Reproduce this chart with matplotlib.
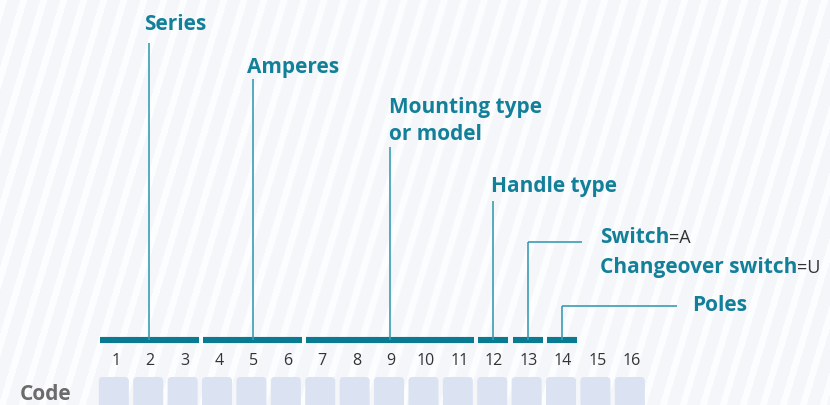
import numpy as np
import matplotlib.pyplot as plt
from matplotlib.patches import FancyBboxPatch

plt.rcParams['font.family'] = ['Open Sans', 'DejaVu Sans']

# code positions and the groups they belong to
positions = list(range(1, 17))
group_start = [1, 4, 7, 12, 13, 14]
group_end = [3, 6, 11, 12, 13, 14]
group_pin = [2, 5, 9, 12, 13, 14]
group_label = ["Series", "Amperes", "Mounting type\nor model", "Handle type", "Switch", "Poles"]
extra_lines = ["", "", "", "", "Changeover switch", ""]
extra_values = ["", "", "", "", "=A", ""]
extra_line_values = ["", "", "", "", "=U", ""]

teal_text = "#13809a"
teal_bar = "#0a7a93"
teal_line = "#3a9cb2"

W, H = 830, 406
px = 34.4          # pixel width of one code slot
x_first = 115      # pixel x of slot 1

fig = plt.figure(figsize=(W / 100, H / 100), dpi=100)
ax = fig.add_axes([0, 0, 1, 1])
ax.set_xlim(1 - x_first / px, 1 + (W - x_first) / px)
ax.set_ylim(H, 0)
ax.axis("off")

# faint diagonal stripes in the background
yy, xx = np.mgrid[0:H, 0:W]
phase = (xx + 0.3 * yy) % 20
bg = np.where(phase < 7, 1.0, 0.0)
c0 = np.array([0.957, 0.967, 0.978])
c1 = np.array([0.990, 0.993, 0.997])
img = c0[None, None, :] * (1 - bg[..., None]) + c1[None, None, :] * bg[..., None]
ax.imshow(img, extent=ax.get_xlim() + ax.get_ylim(), aspect="auto", zorder=0)

# code cells
cell_w = 30 / px
for p in positions:
    box = FancyBboxPatch((p - 0.47, 378), cell_w, 50,
                         boxstyle="round,pad=0,rounding_size=%f" % (4 / px),
                         mutation_aspect=px, fc="#dbe3f2", ec="none", zorder=1)
    ax.add_patch(box)
    ax.text(p + 0.02, 361, str(p), ha="center", va="center", fontsize=11.5,
            color="#333333", zorder=3)

ax.text(1 - (x_first - 20) / px, 395, "Code", ha="left", va="center",
        fontsize=15, fontweight="bold", color="#6b6b6b")

# group bars
bar_y = 341
ax.hlines([bar_y] * len(group_start), [s - 0.44 for s in group_start],
          [e + 0.43 for e in group_end], colors=teal_bar, lw=4.4,
          capstyle="butt", zorder=2)

# vertical pointers with labels above
top_y = [44, 80, 148, 202]
label_y = [25, 67, 121, 187]
label_dx = [-5, -6, -1, -2]
for k in range(4):
    ax.vlines(group_pin[k], top_y[k], bar_y, colors=teal_line, lw=1.2, zorder=2)
    ax.annotate(group_label[k], (group_pin[k], label_y[k]), xytext=(label_dx[k] * 0.72, 0),
                textcoords="offset points", ha="left", va="center", fontsize=15,
                fontweight="bold", color=teal_text, linespacing=1.36)

# elbow pointers to the right
elbow_y = [243, 307]
elbow_end = [54, 115]
text_dx = [72, 130]
text_y = [238, 306]
for j, k in enumerate([4, 5]):
    x = group_pin[k]
    ax.vlines(x, elbow_y[j], bar_y, colors=teal_line, lw=1.2, zorder=2)
    ax.hlines(elbow_y[j], x, x + elbow_end[j] / px, colors=teal_line, lw=1.2, zorder=2)
    t = ax.text(x + text_dx[j] / px, text_y[j], group_label[k], ha="left", va="center",
                fontsize=15, fontweight="bold", color=teal_text)
    if extra_values[k]:
        ax.annotate(extra_values[k], xy=(1, 0.5), xycoords=t, ha="left", va="center",
                    fontsize=13, color="#333333")
    if extra_lines[k]:
        t2 = ax.text(x + text_dx[j] / px, text_y[j] + 30, extra_lines[k], ha="left",
                     va="center", fontsize=15, fontweight="bold", color=teal_text)
        ax.annotate(extra_line_values[k], xy=(1, 0.5), xycoords=t2, ha="left", va="center",
                    fontsize=13, color="#333333")

fig.savefig("out.png", dpi=100)
